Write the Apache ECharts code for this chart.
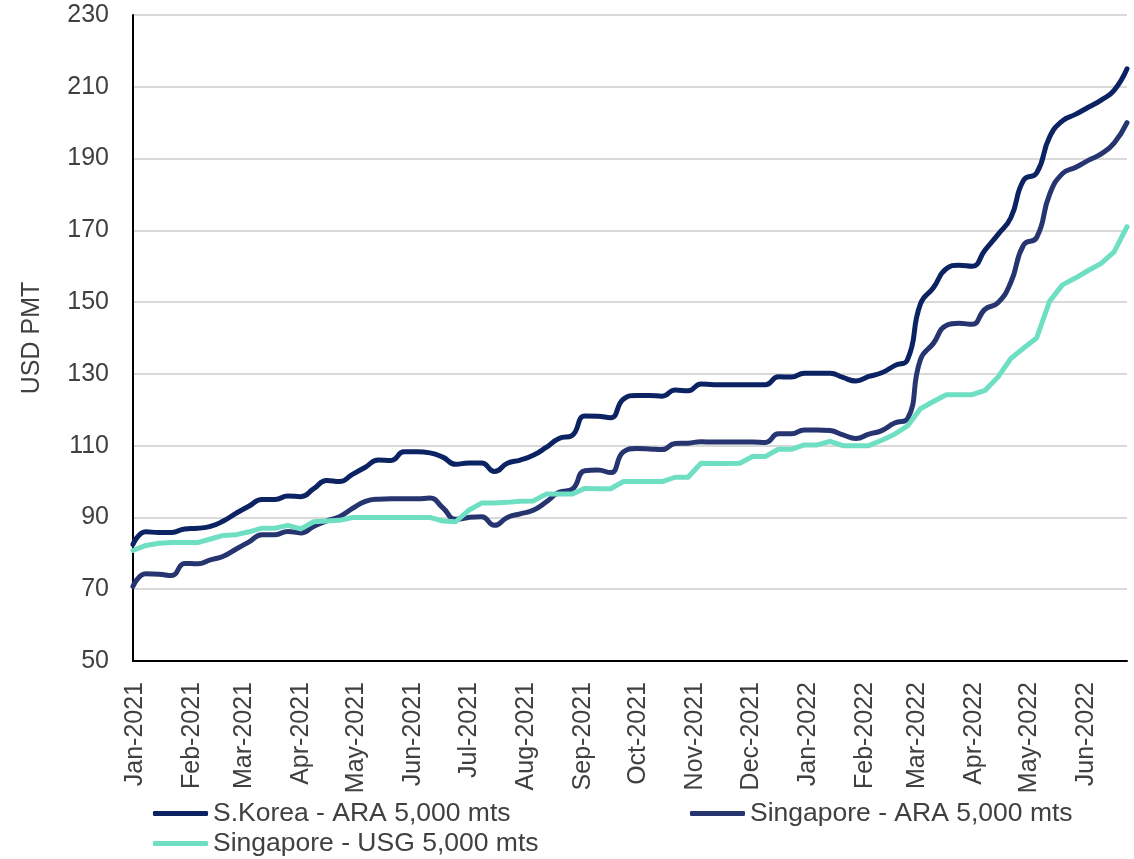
<!DOCTYPE html>
<html>
<head>
<meta charset="utf-8">
<title>Freight rates</title>
<script src="https://cdn.jsdelivr.net/npm/echarts@6/dist/echarts.min.js"></script>
<style>
  html, body { margin: 0; padding: 0; background: #ffffff; }
  #chart { width: 1134px; height: 859px; }
</style>
</head>
<body>
<div id="chart"></div>
<script>
// Weekly assessment dates
const weeks = [
  '2020-12-31','2021-01-07','2021-01-14','2021-01-21','2021-01-28','2021-02-04','2021-02-11','2021-02-18',
  '2021-02-25','2021-03-04','2021-03-11','2021-03-18','2021-03-25','2021-04-01','2021-04-08','2021-04-15',
  '2021-04-22','2021-04-29','2021-05-06','2021-05-13','2021-05-20','2021-05-27','2021-06-03','2021-06-10',
  '2021-06-17','2021-06-24','2021-07-01','2021-07-08','2021-07-15','2021-07-22','2021-07-29','2021-08-05',
  '2021-08-12','2021-08-19','2021-08-26','2021-09-02','2021-09-09','2021-09-16','2021-09-23','2021-09-30',
  '2021-10-07','2021-10-14','2021-10-21','2021-10-28','2021-11-04','2021-11-11','2021-11-18','2021-11-25',
  '2021-12-02','2021-12-09','2021-12-16','2021-12-23','2021-12-30','2022-01-06','2022-01-13','2022-01-20',
  '2022-01-27','2022-02-03','2022-02-10','2022-02-17','2022-02-24','2022-03-03','2022-03-10','2022-03-17',
  '2022-03-24','2022-03-31','2022-04-07','2022-04-14','2022-04-21','2022-04-28','2022-05-05','2022-05-12',
  '2022-05-19','2022-05-26','2022-06-02','2022-06-09','2022-06-16','2022-06-23'
];

// USD per metric tonne
const koreaAra = [
  82.5, 86, 85.8, 85.8, 86.8, 87, 87.5, 89, 91.2, 93.2, 95, 95, 96, 95.8, 98, 100.3,
  100, 102, 104, 106, 105.9, 108.3, 108.3, 108, 106.8, 104.8, 105.2, 105.2, 102.8, 105.1, 106, 107.3,
  109.5, 112, 112.8, 118.3, 118.2, 117.8, 123, 124, 124, 123.8, 125.5, 125.3, 127.2, 127, 127, 127,
  127, 127, 129.2, 129.1, 130.2, 130.2, 130.2, 129, 128, 129.3, 130.3, 132.3, 134, 149.5, 154, 159.3,
  160.3, 160, 164.5, 168.8, 173.5, 184, 186, 196, 200.5, 202.3, 204.3, 206.3, 209, 215
];

const singaporeAra = [
  70.8, 74.3, 74.2, 73.8, 77.2, 77.1, 78.2, 79.2, 81.2, 83.2, 85.2, 85.2, 86.1, 85.7, 87.5, 89,
  90.2, 92.5, 94.5, 95.1, 95.2, 95.2, 95.2, 95.4, 92.7, 89.5, 90, 90.2, 87.8, 90, 91, 92,
  94.3, 97, 97.8, 103, 103.2, 102.5, 108.3, 109.2, 109.1, 108.9, 110.6, 110.7, 111.1, 111, 111, 111,
  111, 110.9, 113.3, 113.3, 114.4, 114.4, 114.2, 113, 112, 113.2, 114.2, 116.3, 117.5, 134, 138.5, 143.5,
  144.1, 143.8, 148, 149.8, 155.5, 166, 168, 180, 185.8, 187.5, 189.5, 191.3, 194.3, 200
];

const singaporeUsg = [
  80.8, 82.2, 82.8, 83, 83, 83, 84, 85, 85.2, 86, 87, 87, 87.8, 86.8, 88.8, 89,
  89.2, 90, 90, 90, 90, 90, 90, 90, 89, 88.8, 92, 94, 94, 94.2, 94.5, 94.6,
  96.5, 96.5, 96.5, 98.1, 98, 98, 100, 100, 100, 100, 101.2, 101.2, 105.1, 105, 105, 105.1,
  107, 107, 109, 109, 110.2, 110.2, 111.2, 110, 110, 110, 111.5, 113.2, 115.5, 120.3, 122.3, 124.2,
  124.2, 124.2, 125.4, 129.1, 134.3, 137.2, 140, 150.2, 154.8, 156.7, 158.8, 160.8, 164, 171
];

// Month-start tick labels on the date axis
const monthTicks = [
  '2021-01-01','2021-02-01','2021-03-01','2021-04-01','2021-05-01','2021-06-01',
  '2021-07-01','2021-08-01','2021-09-01','2021-10-01','2021-11-01','2021-12-01',
  '2022-01-01','2022-02-01','2022-03-01','2022-04-01','2022-05-01','2022-06-01'
];
const monthNames = ['Jan','Feb','Mar','Apr','May','Jun','Jul','Aug','Sep','Oct','Nov','Dec'];

const seriesNames = [
  'S.Korea - ARA 5,000 mts',
  'Singapore - ARA 5,000 mts',
  'Singapore - USG 5,000 mts'
];
const seriesColors = ['#0b2263', '#263470', '#6fdfc3'];

const FONT = '"Liberation Sans", Arial, sans-serif';
const TEXT_COLOR = '#404040';

function parseDay(s) {
  const p = s.split('-').map(Number);
  return Date.UTC(p[0], p[1] - 1, p[2]);
}
function pairs(values) {
  return weeks.map((d, i) => [parseDay(d), values[i]]);
}

const chart = echarts.init(document.getElementById('chart'), null, { renderer: 'canvas' });

const legendBase = {
  orient: 'horizontal',
  icon: 'roundRect',
  itemWidth: 55,
  itemHeight: 5,
  itemGap: 10,
  padding: 0,
  selectedMode: false,
  textStyle: { fontFamily: FONT, fontSize: 26.5, color: TEXT_COLOR }
};

chart.setOption({
  animation: false,
  backgroundColor: '#ffffff',
  grid: { left: 133, right: 7, top: 15, bottom: 198, containLabel: false },
  legend: [
    Object.assign({}, legendBase, { left: 153, top: 800, data: [seriesNames[0]] }),
    Object.assign({}, legendBase, { left: 690, top: 800, data: [seriesNames[1]] }),
    Object.assign({}, legendBase, { left: 153, top: 830, data: [seriesNames[2]] })
  ],
  xAxis: {
    type: 'value',
    min: parseDay(weeks[0]),
    max: parseDay(weeks[weeks.length - 1]),
    axisLine: { show: true, onZero: false, lineStyle: { color: '#000000', width: 2 } },
    axisTick: { show: false },
    splitLine: { show: false },
    axisLabel: {
      rotate: 90,
      margin: 21,
      fontFamily: FONT,
      fontSize: 25,
      color: TEXT_COLOR,
      customValues: monthTicks.map(parseDay),
      formatter: function (v) {
        const d = new Date(v);
        return monthNames[d.getUTCMonth()] + '-' + d.getUTCFullYear();
      }
    }
  },
  yAxis: {
    type: 'value',
    min: 50,
    max: 230,
    interval: 20,
    name: 'USD PMT',
    nameLocation: 'middle',
    nameGap: 88,
    nameTextStyle: { fontFamily: FONT, fontSize: 25, color: TEXT_COLOR },
    axisLine: { show: true, lineStyle: { color: '#000000', width: 2 } },
    axisTick: { show: false },
    axisLabel: { margin: 24, fontFamily: FONT, fontSize: 25, color: TEXT_COLOR },
    splitLine: { show: true, lineStyle: { color: '#d9d9d9', width: 2 } }
  },
  series: [
    {
      name: seriesNames[0], type: 'line', data: pairs(koreaAra),
      showSymbol: false, smooth: 0.5,
      color: seriesColors[0],
      lineStyle: { width: 5, color: seriesColors[0], cap: 'round', join: 'round' }
    },
    {
      name: seriesNames[1], type: 'line', data: pairs(singaporeAra),
      showSymbol: false, smooth: 0.5,
      color: seriesColors[1],
      lineStyle: { width: 5, color: seriesColors[1], cap: 'round', join: 'round' }
    },
    {
      name: seriesNames[2], type: 'line', data: pairs(singaporeUsg),
      showSymbol: false, smooth: false,
      color: seriesColors[2],
      lineStyle: { width: 5, color: seriesColors[2], cap: 'round', join: 'round' }
    }
  ]
});
</script>
</body>
</html>
